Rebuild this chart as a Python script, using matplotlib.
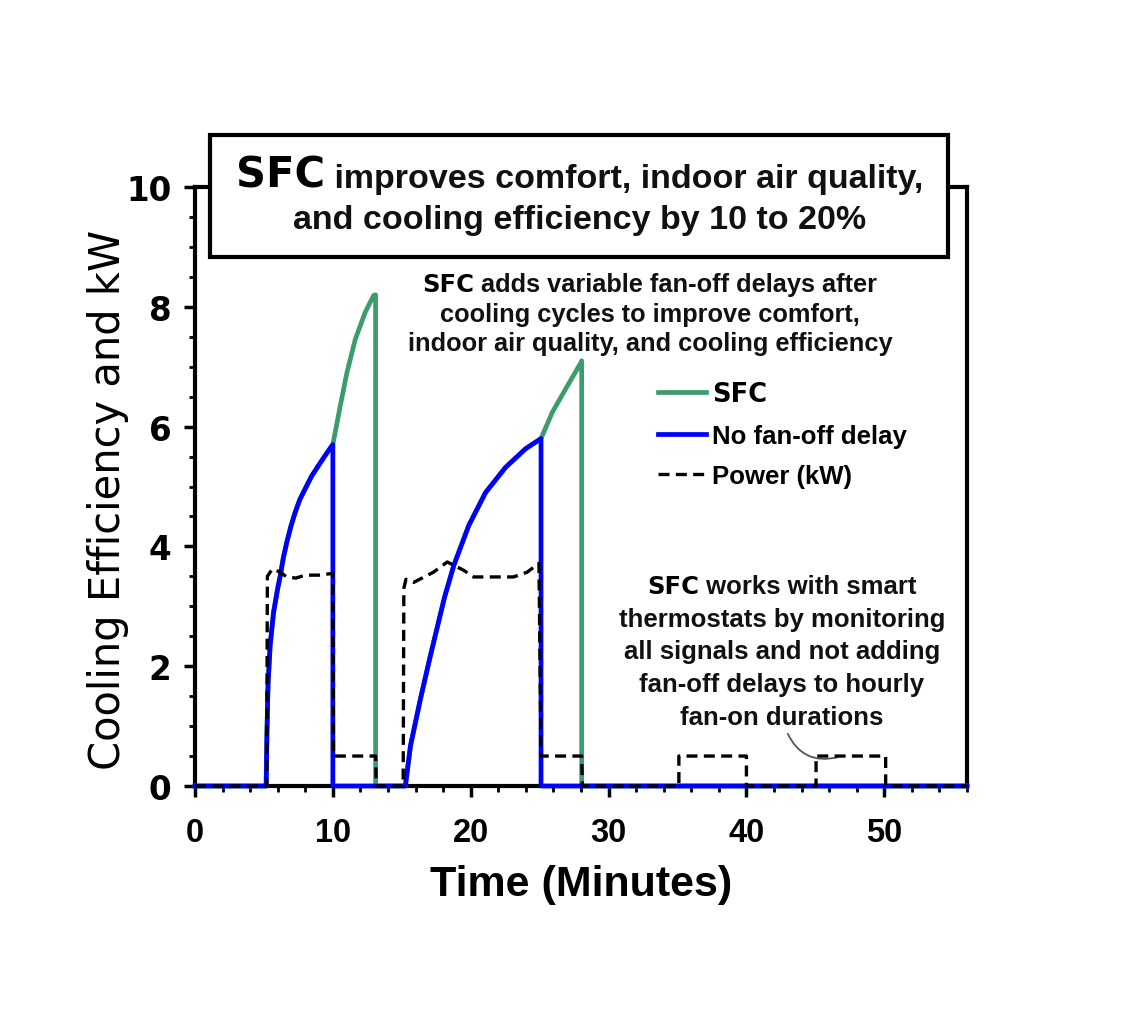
import matplotlib
matplotlib.use("Agg")
import matplotlib.pyplot as plt
from matplotlib.offsetbox import TextArea, HPacker, VPacker, AnnotationBbox
from matplotlib.patches import Rectangle
from matplotlib.ticker import MultipleLocator

# --- data (time in minutes) ---
# SFC curve: same rise as the no-delay curve, then keeps climbing during the fan-off delay
sfc_t = [0, 5.16, 5.22, 5.30, 5.45, 5.70, 6.00, 6.18, 6.40, 6.66, 6.95, 7.27, 7.60, 7.99, 8.45,
         8.96, 9.45, 9.93, 10.0,
         10.54, 11.02, 11.63, 12.35, 12.96, 13.1, 13.1,
         15.26, 15.63, 16.35, 17.08, 18.1, 18.77, 19.86, 21.08, 22.53, 23.98, 25.1,
         25.92, 26.89, 28.0, 28.05, 28.05, 56]
sfc_y = [0, 0, 0.9, 1.7, 2.35, 2.9, 3.3, 3.5, 3.8, 4.07, 4.33, 4.57, 4.78, 4.96, 5.17,
         5.35, 5.52, 5.68, 5.7,
         6.35, 6.9, 7.46, 7.91, 8.19, 8.2, 0,
         0, 0.67, 1.45, 2.18, 3.15, 3.68, 4.35, 4.9, 5.32, 5.63, 5.8,
         6.24, 6.63, 7.07, 7.1, 0, 0]

# no fan-off delay: drops to zero as soon as the compressor stops
nodelay_t = [0, 5.16, 5.22, 5.30, 5.45, 5.70, 6.00, 6.18, 6.40, 6.66, 6.95, 7.27, 7.60, 7.99, 8.45,
             8.96, 9.45, 9.93, 10.0, 10.0,
             15.26, 15.63, 16.35, 17.08, 18.1, 18.77, 19.86, 21.08, 22.53, 23.98, 25.1, 25.1, 56]
nodelay_y = [0, 0, 0.9, 1.7, 2.35, 2.9, 3.3, 3.5, 3.8, 4.07, 4.33, 4.57, 4.78, 4.96, 5.17,
             5.35, 5.52, 5.68, 5.7, 0,
             0, 0.67, 1.45, 2.18, 3.15, 3.68, 4.35, 4.9, 5.32, 5.63, 5.8, 0, 0]

# power (kW): compressor on ~3.5 kW, fan only ~0.5 kW
power_t = [0, 5.2, 5.25, 5.6, 6.1, 6.6, 7.3, 8.0, 9.0, 10.0, 10.05, 13.1, 13.15,
           15.1, 15.15, 15.3, 15.87, 17.3, 18.3, 19.5, 20.2, 23.1, 24.1, 24.95, 25.1, 28.05, 28.1,
           35.1, 35.1, 40.0, 40.0, 45.05, 45.05, 50.1, 50.1, 56]
power_y = [0, 0, 3.5, 3.62, 3.58, 3.5, 3.47, 3.52, 3.52, 3.55, 0.5, 0.5, 0,
           0, 3.3, 3.45, 3.4, 3.57, 3.74, 3.6, 3.49, 3.49, 3.57, 3.72, 0.5, 0.5, 0,
           0, 0.5, 0.5, 0, 0, 0.5, 0.5, 0, 0]

x_ticks = [0, 10, 20, 30, 40, 50]
y_ticks = [0, 2, 4, 6, 8, 10]

# leader line from the thermostat note down to the hourly fan-on box
leader_from = (43.0, 0.87)
leader_to = (46.6, 0.48)

GREEN = "#3d9c6c"
BLUE = "#0000ff"
HEAVY = dict(family="DejaVu Sans", weight="bold", color="black")
BOLD = dict(family="Liberation Sans", weight="bold", color="#111111")


def rich_block(lines, size, sep):
    """lines: list of [(text, props[, size]), ...]; stacks mixed-font lines, centred."""
    rows = []
    for parts in lines:
        areas = []
        for part in parts:
            s, p = part[0], part[1]
            sz = part[2] if len(part) > 2 else size
            areas.append(TextArea(s, textprops=dict(p, size=sz)))
        rows.append(HPacker(children=areas, align="baseline", pad=0, sep=0))
    return VPacker(children=rows, align="center", pad=0, sep=sep)


def place(fig, box, x, y):
    ab = AnnotationBbox(box, (x, y), xycoords="figure fraction", frameon=False,
                        box_alignment=(0.5, 1.0), zorder=6)
    fig.add_artist(ab)


fig = plt.figure(figsize=(11.26, 10.12), dpi=100)
W, H = 1126.0, 1012.0
ax = fig.add_axes([195 / W, 1 - 787 / H, 772 / W, 599 / H])

ax.plot(sfc_t, sfc_y, color=GREEN, lw=3.4, label="SFC", zorder=3, clip_on=False)
ax.plot(nodelay_t, nodelay_y, color=BLUE, lw=3.4, label="No fan-off delay", zorder=3.1, clip_on=False)
ax.plot(power_t, power_y, color="black", lw=2.4, ls=(0, (3.3, 1.9)), label="Power (kW)",
        zorder=3.2, clip_on=False)

ax.set_xlim(0, 56)
ax.set_ylim(0, 10)
ax.set_xticks(x_ticks, labels=[str(v) for v in x_ticks], family="Liberation Sans",
              weight="bold", size=23.5)
ax.set_yticks(y_ticks, labels=[str(v) for v in y_ticks], family="DejaVu Sans",
              weight="bold", size=23.5)
ax.xaxis.set_minor_locator(MultipleLocator(2))
ax.yaxis.set_minor_locator(MultipleLocator(0.5))
ax.tick_params(which="major", direction="out", length=8, width=2.5, top=False, right=False)
ax.tick_params(which="minor", direction="out", length=4.5, width=2, top=False, right=False)
ax.tick_params(axis="x", pad=14)
ax.tick_params(axis="y", pad=9)
for sp in ax.spines.values():
    sp.set_linewidth(3)

ax.set_xlabel("Time (Minutes)", family="Liberation Sans", weight="bold", size=31)
ax.xaxis.set_label_coords(0.5, -0.131)
ax.set_ylabel("Cooling Efficiency and kW", family="DejaVu Sans", size=30)
ax.yaxis.set_label_coords(-0.086, 0.48)

leg = ax.legend(loc="upper left", bbox_to_anchor=(658 / W, 1 - 382 / H),
                bbox_transform=fig.transFigure, frameon=False, borderpad=0,
                borderaxespad=0, handlelength=1.85, handletextpad=0.25,
                labelspacing=0.65, prop=dict(family="Liberation Sans", weight="bold", size=18.5))
leg.get_texts()[0].set_fontfamily("DejaVu Sans")

ax.annotate("", xy=leader_to, xytext=leader_from,
            arrowprops=dict(arrowstyle="-", color="#555555", lw=1.3,
                            connectionstyle="arc3,rad=0.4", shrinkA=0, shrinkB=0))

# title box
fig.add_artist(Rectangle((210 / W, 1 - 258 / H), 738 / W, 122 / H, transform=fig.transFigure,
                         fc="white", ec="black", lw=3, zorder=5))
title = rich_block([[("SFC", HEAVY, 30), (" improves comfort, indoor air quality,", BOLD)],
                    [("and cooling efficiency by 10 to 20%", BOLD)]], 24.5, sep=6)
place(fig, title, 580 / W, 1 - 155 / H)

note1 = rich_block([[("SFC", HEAVY, 17.5), (" adds variable fan-off delays after", BOLD)],
                    [("cooling cycles to improve comfort,", BOLD)],
                    [("indoor air quality, and cooling efficiency", BOLD)]], 18.3, sep=4)
place(fig, note1, 650 / W, 1 - 273 / H)

note2 = rich_block([[("SFC", HEAVY, 17.5), (" works with smart", BOLD)],
                    [("thermostats by monitoring", BOLD)],
                    [("all signals and not adding", BOLD)],
                    [("fan-off delays to hourly", BOLD)],
                    [("fan-on durations", BOLD)]], 18.5, sep=6.3)
place(fig, note2, 782 / W, 1 - 575 / H)

fig.savefig("out.png", dpi=100)
